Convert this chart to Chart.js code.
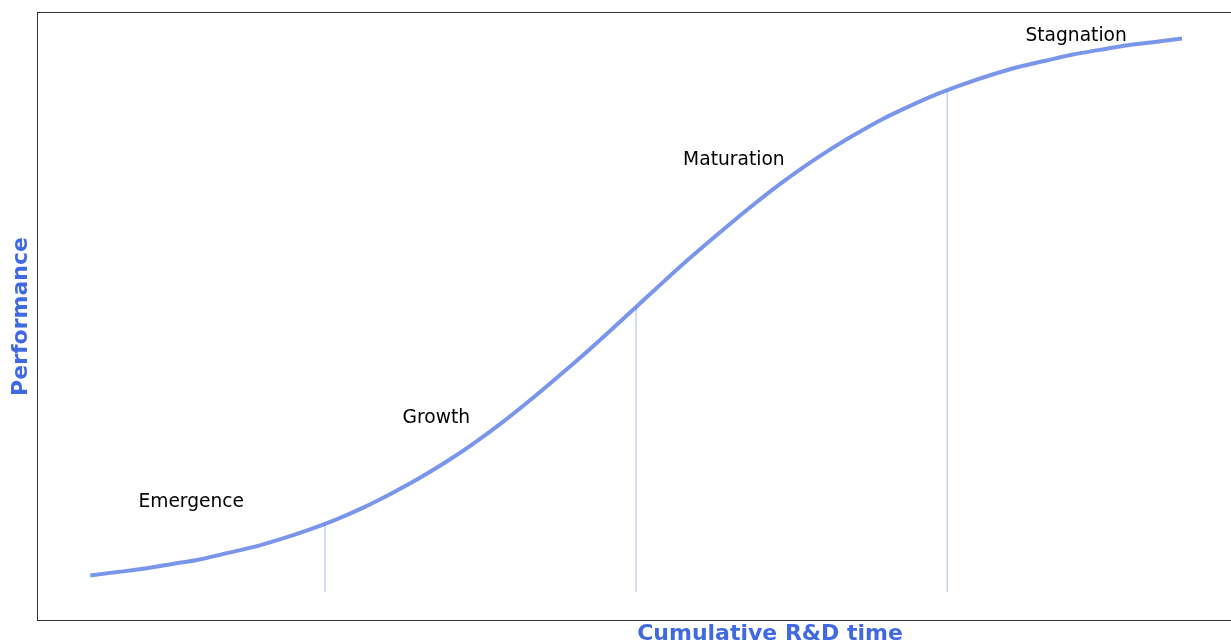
<!DOCTYPE html>
<html>
<head>
<meta charset="utf-8">
<script src="https://cdn.jsdelivr.net/npm/chart.js@4.4.1/dist/chart.umd.min.js"></script>
<style>
  html, body { margin: 0; padding: 0; background: #ffffff; overflow: hidden; width: 1231px; height: 642px; }
  #wrap { position: absolute; left: 0; top: 0; width: 1540px; height: 652px; }
  canvas { display: block; }
</style>
</head>
<body>
<div id="wrap"><canvas id="c" width="1540" height="652" style="width:1540px;height:652px"></canvas></div>
<script>
// ---- data ----
const rdTime = [0, 0.25, 0.5, 0.75, 1, 1.25, 1.5, 1.75, 2, 2.25, 2.5, 2.75, 3, 3.25, 3.5, 3.75, 4, 4.25, 4.5, 4.75, 5,
                5.25, 5.5, 5.75, 6, 6.25, 6.5, 6.75, 7, 7.25, 7.5, 7.75, 8, 8.25, 8.5, 8.75, 9, 9.25, 9.5, 9.75, 10];
const performance = [0.029, 0.035, 0.041, 0.049, 0.057, 0.068, 0.079, 0.093, 0.109, 0.127, 0.148, 0.172, 0.198, 0.227, 0.259, 0.294, 0.332, 0.372, 0.413, 0.456, 0.500,
                     0.544, 0.587, 0.628, 0.668, 0.706, 0.741, 0.773, 0.802, 0.829, 0.852, 0.873, 0.891, 0.907, 0.921, 0.932, 0.943, 0.951, 0.959, 0.965, 0.971];
const phaseBoundaries = [2.15, 5.0, 7.85];
const boundaryTops = [0.120, 0.500, 0.880];
const phaseNames = ["Emergence", "Growth", "Maturation", "Stagnation"];
const phaseLabelX = [0.925, 3.17, 5.895, 9.03];
const phaseLabelY = [0.157, 0.305, 0.757, 0.975];
const xTitle = "Cumulative R&D time";
const yTitle = "Performance";

// ---- build chart ----
const curveColor = "rgba(65,105,225,0.7)";
const vlineColor = "rgba(65,105,225,0.3)";
const titleColor = "#4169E1";
const FONT = "'DejaVu Sans', 'Liberation Sans', sans-serif";

const datasets = [{
  data: rdTime.map((x, i) => ({ x: x, y: performance[i] })),
  borderColor: curveColor,
  borderWidth: 4,
  pointRadius: 0,
  cubicInterpolationMode: 'monotone',
  fill: false,
  borderCapStyle: 'butt'
}];
phaseBoundaries.forEach((b, i) => {
  datasets.push({
    data: [{ x: b, y: 0 }, { x: b, y: boundaryTops[i] }],
    borderColor: vlineColor,
    borderWidth: 1.5,
    pointRadius: 0,
    fill: false
  });
});

const framePlugin = {
  id: 'frame',
  afterDraw(chart) {
    const { ctx, chartArea: a } = chart;
    ctx.save();
    ctx.strokeStyle = "rgba(0,0,0,0.8)";
    ctx.lineWidth = 1;
    ctx.strokeRect(Math.round(a.left) + 0.5, Math.round(a.top) + 0.5,
                   Math.round(a.right - a.left) - 1, Math.round(a.bottom - a.top) - 1);
    ctx.restore();
  }
};

const labelPlugin = {
  id: 'phaseLabels',
  afterDatasetsDraw(chart) {
    const { ctx, scales: { x, y } } = chart;
    ctx.save();
    ctx.fillStyle = "#000000";
    ctx.font = "18.67px " + FONT;
    ctx.textAlign = "center";
    ctx.textBaseline = "middle";
    phaseNames.forEach((name, i) => {
      ctx.fillText(name, x.getPixelForValue(phaseLabelX[i]), y.getPixelForValue(phaseLabelY[i]));
    });
    ctx.restore();
  }
};

new Chart(document.getElementById('c'), {
  type: 'line',
  data: { datasets: datasets },
  options: {
    responsive: false,
    animation: false,
    events: [],
    layout: { autoPadding: false, padding: { left: 0, top: 12, right: 37, bottom: 0 } },
    plugins: { legend: { display: false }, tooltip: { enabled: false } },
    scales: {
      x: {
        type: 'linear',
        min: -0.488,
        max: 12.94,
        grid: { display: false, drawTicks: false },
        border: { display: false },
        ticks: { display: false },
        title: {
          display: true,
          text: xTitle,
          color: titleColor,
          font: { family: FONT, size: 22, weight: 'bold' },
          padding: { top: 0, bottom: 4.6 }
        }
      },
      y: {
        type: 'linear',
        min: -0.051,
        max: 1.0175,
        grid: { display: false, drawTicks: false },
        border: { display: false },
        ticks: { display: false },
        title: {
          display: true,
          text: yTitle,
          color: titleColor,
          font: { family: FONT, size: 22, weight: 'bold' },
          padding: { top: 8, bottom: 2.6 }
        }
      }
    }
  },
  plugins: [framePlugin, labelPlugin]
});
</script>
</body>
</html>
